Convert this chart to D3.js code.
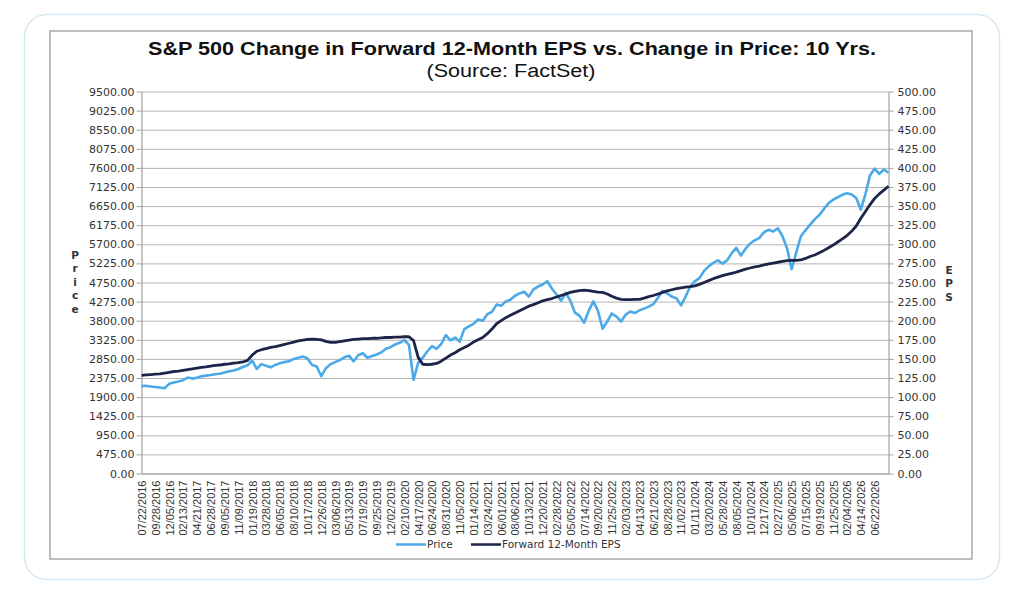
<!DOCTYPE html>
<html>
<head>
<meta charset="utf-8">
<script src="https://cdn.jsdelivr.net/npm/d3@7"></script>
<style>
  body { margin: 0; background: #fff; }
  svg { display: block; }
</style>
</head>
<body>
<div id="chart"></div>
<script>
// category labels shown under the x axis (one every 3 data steps)
const dateLabels = [
  '07/22/2016', '09/28/2016', '12/05/2016', '02/13/2017', '04/21/2017', '06/28/2017',
  '09/05/2017', '11/09/2017', '01/19/2018', '03/28/2018', '06/05/2018', '08/10/2018',
  '10/17/2018', '12/26/2018', '03/06/2019', '05/13/2019', '07/19/2019', '09/25/2019',
  '12/02/2019', '02/10/2020', '04/17/2020', '06/24/2020', '08/31/2020', '11/05/2020',
  '01/14/2021', '03/24/2021', '06/01/2021', '08/06/2021', '10/13/2021', '12/20/2021',
  '02/28/2022', '05/05/2022', '07/14/2022', '09/20/2022', '11/25/2022', '02/03/2023',
  '04/13/2023', '06/21/2023', '08/28/2023', '11/02/2023', '01/11/2024', '03/20/2024',
  '05/28/2024', '08/05/2024', '10/10/2024', '12/17/2024', '02/27/2025', '05/06/2025',
  '07/15/2025', '09/19/2025', '11/25/2025', '02/04/2026', '04/14/2026', '06/22/2026'
];
const stepsPerLabel = 3;

// S&P 500 price
const priceValues = [
  2175, 2180, 2165, 2150, 2140, 2120, 2230, 2265, 2290, 2320,
  2385, 2360, 2380, 2420, 2435, 2450, 2470, 2480, 2510, 2540,
  2560, 2600, 2650, 2690, 2810, 2600, 2720, 2680, 2640, 2700,
  2740, 2770, 2790, 2850, 2880, 2910, 2860, 2700, 2660, 2420,
  2620, 2720, 2770, 2820, 2890, 2930, 2790, 2940, 2990, 2880,
  2920, 2960, 3010, 3100, 3140, 3210, 3250, 3320, 3200, 2330,
  2750, 2880, 3040, 3170, 3100, 3220, 3440, 3310, 3380, 3280,
  3590, 3660, 3720, 3830, 3800, 3960, 4020, 4200, 4170, 4280,
  4320, 4420, 4480, 4520, 4400, 4580, 4650, 4700, 4780, 4600,
  4450, 4300, 4490, 4300, 4000, 3920, 3750, 4050, 4280, 4040,
  3600, 3780, 3980, 3900, 3780, 3950, 4030, 3990, 4060, 4100,
  4150, 4210, 4370, 4540, 4480, 4400, 4360, 4180, 4400, 4650,
  4780, 4860, 5040, 5150, 5240, 5300, 5220, 5300, 5480, 5610,
  5420, 5590, 5720, 5800, 5860, 6000, 6060, 6020, 6100, 5900,
  5600, 5080, 5500, 5900, 6050, 6190, 6320, 6430, 6580, 6720,
  6810, 6870, 6930, 6970, 6940, 6850, 6560, 6950, 7420, 7580,
  7450, 7560, 7480
];

// forward 12-month EPS
const epsValues = [
  128.5, 129, 129.5, 130, 130.5, 131.5, 132.5, 133.5, 134, 135,
  136, 137, 138, 139, 139.5, 140.5, 141.5, 142, 143, 143.5,
  144.5, 145, 146, 148, 155, 160, 162, 163.5, 165, 166,
  167.5, 169, 170.5, 172, 173.5, 174.5, 175.5, 176, 175.5, 175,
  173, 171.5, 171.5, 172.5, 173.5, 174.5, 175.5, 176, 176.5, 176.5,
  177, 177, 177.5, 178, 178, 178.5, 178.5, 179, 179, 174,
  152, 143, 142.5, 143, 144, 147, 151, 155, 158, 162,
  165, 168, 172, 175, 178, 183, 189, 196, 200, 204,
  207, 210, 213, 216, 219, 221, 223.5, 226, 227.5, 229,
  231, 233, 235, 237, 238.5, 239.5, 240, 239.5, 238.5, 237.5,
  237, 235, 232, 229.5, 228, 227.5, 227.5, 228, 228, 229.5,
  231.5, 233, 235, 237, 239, 240.5, 242, 243, 244, 244.5,
  245.5, 247.5, 250, 252.5, 255, 257, 259, 260.5, 262, 263.5,
  265.5, 267.5, 269, 270.5, 271.5, 273, 274.5, 275.5, 276.5, 277.5,
  278.5, 279, 279, 279.5, 281.5, 284, 286, 289, 292, 295.5,
  299, 303, 307, 311.5, 317, 324, 334, 343, 352, 360,
  366, 371, 376
];

const priceTicks = [0, 475, 950, 1425, 1900, 2375, 2850, 3325, 3800, 4275, 4750,
  5225, 5700, 6175, 6650, 7125, 7600, 8075, 8550, 9025, 9500];
const epsTicks = [0, 25, 50, 75, 100, 125, 150, 175, 200, 225, 250,
  275, 300, 325, 350, 375, 400, 425, 450, 475, 500];

const titleText = 'S&P 500 Change in Forward 12-Month EPS vs. Change in Price: 10 Yrs.';
const subtitleText = '(Source: FactSet)';
const priceColor = '#4aa9e6';
const epsColor = '#1c2448';

drawChart();

function drawChart() {
  const width = 1024;
  const height = 592;
  const svg = d3.select('#chart')
    .append('svg')
    .attr('width', width)
    .attr('height', height);

  // rounded outer card and the chart box
  svg.append('rect')
    .attr('x', 24.5).attr('y', 14.5)
    .attr('width', 975).attr('height', 565)
    .attr('rx', 22)
    .attr('fill', '#fff')
    .attr('stroke', '#d4e9f6')
    .attr('stroke-width', 1.5);

  svg.append('rect')
    .attr('x', 50).attr('y', 31)
    .attr('width', 922).attr('height', 528)
    .attr('fill', '#fff')
    .attr('stroke', '#a8a8a8')
    .attr('stroke-width', 1.5);

  // plot area
  const left = 141.5;
  const right = 888.5;
  const top = 91.5;
  const bottom = 473.5;

  const x = d3.scaleLinear()
    .domain([0, priceValues.length - 1])
    .range([left, right]);
  const yPrice = d3.scaleLinear().domain([0, 9500]).range([bottom, top]);
  const yEps = d3.scaleLinear().domain([0, 500]).range([bottom, top]);

  // horizontal grid
  const grid = svg.append('g')
    .attr('transform', `translate(${left}, 0)`)
    .call(d3.axisLeft(yPrice).tickValues(priceTicks).tickSize(-(right - left)).tickFormat(''));
  grid.select('.domain').remove();
  grid.selectAll('line').attr('stroke', '#b4b4b4');

  // left axis
  const axisL = svg.append('g')
    .attr('transform', `translate(${left}, 0)`)
    .call(d3.axisLeft(yPrice).tickValues(priceTicks).tickSize(5).tickSizeOuter(0)
      .tickFormat(d3.format('.2f')));
  styleAxis(axisL);
  axisL.selectAll('text').attr('x', -7);

  // right axis
  const axisR = svg.append('g')
    .attr('transform', `translate(${right}, 0)`)
    .call(d3.axisRight(yEps).tickValues(epsTicks).tickSize(5).tickSizeOuter(0)
      .tickFormat(d3.format('.2f')));
  styleAxis(axisR);
  axisR.selectAll('text').attr('x', 9);

  // bottom axis with rotated date labels
  const labelIdx = dateLabels.map((d, i) => i * stepsPerLabel);
  const axisB = svg.append('g')
    .attr('transform', `translate(0, ${bottom})`)
    .call(d3.axisBottom(x).tickValues(labelIdx).tickSize(0).tickSizeOuter(0)
      .tickFormat(i => dateLabels[i / stepsPerLabel]));
  styleAxis(axisB);
  axisB.selectAll('text')
    .attr('transform', 'rotate(-90)')
    .attr('x', -7)
    .attr('y', 0)
    .attr('dy', '0.35em')
    .style('text-anchor', 'end')
    .style('font-family', '"Liberation Sans", Arial, sans-serif')
    .style('font-size', '11px')
    .attr('fill', '#333');

  // the two series
  const priceLine = d3.line()
    .x((d, i) => x(i))
    .y(d => yPrice(d));
  const epsLine = d3.line()
    .x((d, i) => x(i))
    .y(d => yEps(d));

  svg.append('path')
    .attr('fill', 'none')
    .attr('stroke', priceColor)
    .attr('stroke-width', 2.6)
    .attr('stroke-linejoin', 'round')
    .attr('d', priceLine(priceValues));

  svg.append('path')
    .attr('fill', 'none')
    .attr('stroke', epsColor)
    .attr('stroke-width', 2.8)
    .attr('stroke-linejoin', 'round')
    .attr('d', epsLine(epsValues));

  // titles
  svg.append('text')
    .attr('x', 512).attr('y', 55)
    .attr('text-anchor', 'middle')
    .attr('textLength', 728)
    .attr('lengthAdjust', 'spacingAndGlyphs')
    .style('font-family', '"Liberation Sans", Arial, sans-serif')
    .style('font-weight', 'bold')
    .style('font-size', '18px')
    .attr('fill', '#111')
    .text(titleText);

  svg.append('text')
    .attr('x', 511).attr('y', 77)
    .attr('text-anchor', 'middle')
    .attr('textLength', 169)
    .attr('lengthAdjust', 'spacingAndGlyphs')
    .style('font-family', '"Liberation Sans", Arial, sans-serif')
    .style('font-size', '18px')
    .attr('fill', '#111')
    .text(subtitleText);

  // stacked axis names
  svg.append('g').selectAll('text')
    .data('Price'.split(''))
    .enter()
    .append('text')
    .attr('x', 75)
    .attr('y', (d, i) => 259 + i * 13.4)
    .attr('text-anchor', 'middle')
    .style('font-family', '"DejaVu Sans", sans-serif')
    .style('font-weight', 'bold')
    .style('font-size', '10.5px')
    .attr('fill', '#333')
    .text(d => d);

  svg.append('g').selectAll('text')
    .data('EPS'.split(''))
    .enter()
    .append('text')
    .attr('x', 949)
    .attr('y', (d, i) => 274 + i * 13.4)
    .attr('text-anchor', 'middle')
    .style('font-family', '"DejaVu Sans", sans-serif')
    .style('font-weight', 'bold')
    .style('font-size', '10.5px')
    .attr('fill', '#333')
    .text(d => d);

  // legend
  const legendItems = [
    { name: 'Price', color: priceColor, x: 396 },
    { name: 'Forward 12-Month EPS', color: epsColor, x: 471 }
  ];
  const legend = svg.append('g')
    .attr('class', 'legend')
    .attr('transform', 'translate(0, 544.5)');
  const item = legend.selectAll('g')
    .data(legendItems)
    .enter()
    .append('g')
    .attr('transform', d => `translate(${d.x}, 0)`);
  item.append('line')
    .attr('x1', 0).attr('x2', 30)
    .attr('stroke', d => d.color)
    .attr('stroke-width', 2.5);
  item.append('text')
    .attr('x', 31)
    .attr('dy', '0.35em')
    .style('font-family', '"DejaVu Sans", sans-serif')
    .style('font-size', '10.5px')
    .attr('fill', '#333')
    .text(d => d.name);

  function styleAxis(g) {
    g.select('.domain').attr('stroke', '#a0a0a0').attr('stroke-width', 1.2);
    g.selectAll('.tick line').attr('stroke', '#a0a0a0');
    g.selectAll('text')
      .style('font-family', '"DejaVu Sans", sans-serif')
      .style('font-size', '11px')
      .attr('fill', '#333');
  }
}
</script>
</body>
</html>
